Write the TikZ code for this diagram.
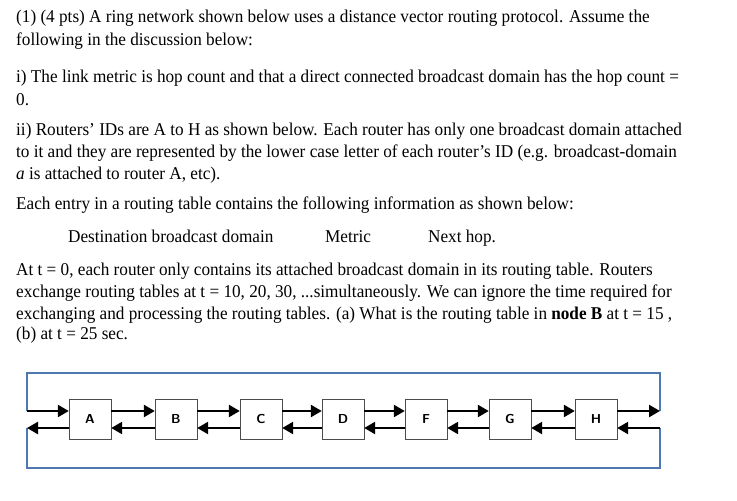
\documentclass[tikz,border=0pt]{standalone}
\usepackage{fontspec}
\setmainfont[FakeStretch=0.955]{Liberation Serif}
\usetikzlibrary{arrows.meta}
\definecolor{ringblue}{RGB}{79,120,178}
\begin{document}
\begin{tikzpicture}[x=1pt,y=-1pt,
  ln/.style={anchor=base west,inner sep=0pt,font=\fontsize{18}{21}\selectfont},
  router/.style={draw=black!70,fill=white,minimum width=42pt,minimum height=40pt,inner sep=0pt,font=\sffamily\bfseries\fontsize{13}{14}\selectfont},
  arr/.style={line width=2.4pt,-{Triangle[length=11pt,width=12pt]}},
  ring/.style={draw=ringblue,line width=1.8pt}]
\useasboundingbox (0,0) rectangle (737,501);
\node[ln] (l1) at (16,22) {(1) (4 pts) A ring network shown below uses a distance vector routing protocol. Assume the};
\node[ln] (l2) at (16,45) {following in the discussion below:};
\node[ln] (l3) at (16,82) {i) The link metric is hop count and that a direct connected broadcast domain has the hop count =};
\node[ln] (l4) at (16,105) {0.};
\node[ln] (l5) at (16,135) {ii) Routers’ IDs are A to H as shown below. Each router has only one broadcast domain attached};
\node[ln] (l6) at (16,157) {to it and they are represented by the lower case letter of each router’s ID (e.g. broadcast-domain};
\node[ln] (l7) at (16,179) {\textit{a} is attached to router A, etc).};
\node[ln] (l8) at (16,209) {Each entry in a routing table contains the following information as shown below:};
\node[ln] (h1) at (68,242) {Destination broadcast domain};
\node[ln] (h2) at (325,242) {Metric};
\node[ln] (h3) at (428,242) {Next hop.};
\node[ln] (l9) at (16,275) {At t = 0, each router only contains its attached broadcast domain in its routing table. Routers};
\node[ln] (l10) at (16,297) {exchange routing tables at t = 10, 20, 30, ...simultaneously. We can ignore the time required for};
\node[ln] (l11) at (16,319) {exchanging and processing the routing tables. (a) What is the routing table in \textbf{node B} at t = 15 ,};
\node[ln] (l12) at (16,339) {(b) at t = 25 sec.};
% routers
\foreach \n/\x in {A/90,B/176,C/261,D/343,F/426,G/510,H/596}{
  \node[router] (\n) at (\x,419) {\n};
}
\coordinate (lt) at (27,411); \coordinate (lb) at (27,428);
\coordinate (rt) at (660,411); \coordinate (rb) at (660,428);
\coordinate (tl) at (27,373); \coordinate (tr) at (660,373);
\coordinate (bl) at (27,468); \coordinate (br) at (660,468);
\draw[ring] (lt) -- (tl) -- (tr) -- (rt);
\draw[ring] (lb) -- (bl) -- (br) -- (rb);
\draw[arr] (lt) -- (A.west|-lt);
\draw[arr] (A.west|-lb) -- (lb);
\foreach \a/\b in {A/B,B/C,C/D,D/F,F/G,G/H}{
  \draw[arr] (\a.east|-lt) -- (\b.west|-lt);
  \draw[arr] (\b.west|-lb) -- (\a.east|-lb);
}
\draw[arr] (H.east|-lt) -- (rt);
\draw[arr] (rb) -- (H.east|-lb);
\end{tikzpicture}
\end{document}
